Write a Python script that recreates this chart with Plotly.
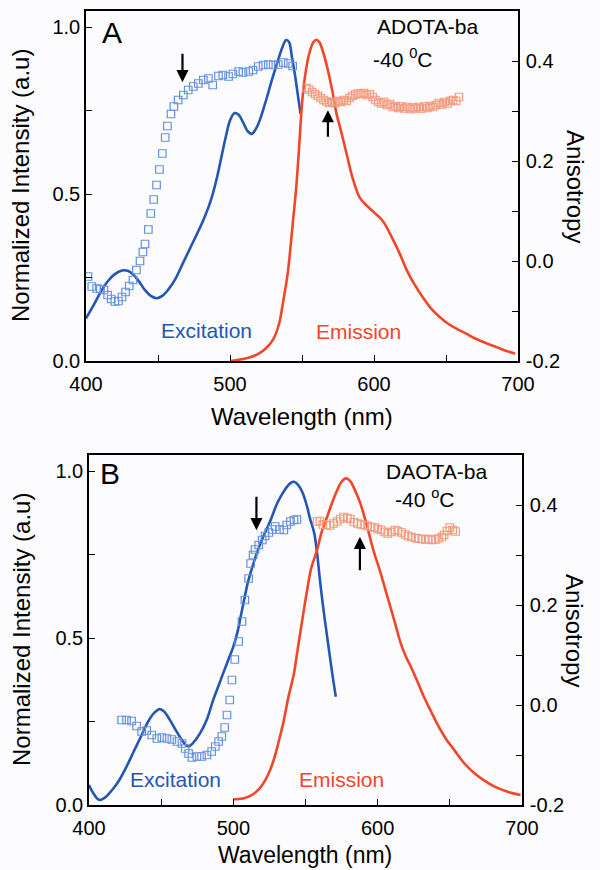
import plotly.graph_objects as go

# ---------------- Panel A : ADOTA-ba ----------------
a_exc_wl = [400, 405, 410, 415, 420, 425, 429, 433, 437, 441, 445, 449, 453, 457, 462, 467, 472, 477, 481, 485,
            488, 491, 494, 497, 500, 503, 506, 509, 512, 515, 518, 521, 525, 529, 533, 536, 539, 541, 543, 545, 547, 549]
a_exc_val = [0.128, 0.165, 0.205, 0.238, 0.26, 0.271, 0.27, 0.258, 0.237, 0.212, 0.195, 0.188, 0.195, 0.213, 0.245,
             0.29, 0.335, 0.38, 0.417, 0.46, 0.50, 0.55, 0.61, 0.67, 0.72, 0.742, 0.737, 0.715, 0.69, 0.68, 0.695,
             0.725, 0.78, 0.84, 0.895, 0.935, 0.961, 0.955, 0.91, 0.86, 0.80, 0.74]

a_emi_wl = [500, 505, 510, 515, 520, 525, 530, 534, 537, 540, 542, 544, 546, 548, 550, 552, 555, 558, 560, 562, 565,
            568, 571, 574, 577, 581, 585, 590, 595, 600, 606, 613, 618, 623, 628, 634, 640, 646, 652, 658, 664, 670,
            678, 686, 692, 698]
a_emi_val = [0.0, 0.003, 0.007, 0.013, 0.022, 0.038, 0.065, 0.11, 0.18, 0.26, 0.34, 0.43, 0.52, 0.64, 0.77, 0.85,
             0.92, 0.955, 0.962, 0.955, 0.92, 0.87, 0.81, 0.74, 0.69, 0.62, 0.55, 0.49, 0.465, 0.445, 0.42, 0.365,
             0.32, 0.27, 0.23, 0.19, 0.155, 0.13, 0.11, 0.095, 0.082, 0.068, 0.053, 0.04, 0.03, 0.022]

a_anx_wl = [401.4, 404, 407.4, 410, 412.5, 415, 417.5, 420, 422.5, 425, 427.5, 430, 432.6, 435, 437.5, 439.5, 441,
            443.3, 445, 447, 449, 451, 453, 455, 456.5, 459, 461, 464, 467.6, 471, 474.5, 478, 481.5, 485, 488, 492,
            495, 499, 502, 506, 509, 513, 516, 519.6, 523, 526.6, 530, 533.5, 537, 540.5, 543.5]
a_anx_val = [-0.031, -0.051, -0.055, -0.056, -0.058, -0.068, -0.076, -0.081, -0.08, -0.072, -0.062, -0.05, -0.038,
             -0.018, 0.0, 0.018, 0.034, 0.063, 0.095, 0.123, 0.152, 0.183, 0.215, 0.247, 0.27, 0.294, 0.309, 0.322,
             0.332, 0.342, 0.349, 0.355, 0.362, 0.365, 0.352, 0.37, 0.372, 0.369, 0.374, 0.379, 0.377, 0.379, 0.382,
             0.389, 0.392, 0.393, 0.392, 0.393, 0.397, 0.395, 0.39]

a_anm_wl = [553, 555, 557, 559, 561, 563, 565, 567, 569, 571, 573, 575, 577, 579, 581, 583, 585, 587, 589, 591, 593,
            595, 597, 599, 601, 603, 605, 607, 609, 611, 613, 615, 617, 619, 621, 623, 625, 627, 629, 631, 633, 635,
            637, 639, 641, 643, 645, 647, 649, 651, 653, 655, 657, 659]
a_anm_val = [0.346, 0.343, 0.338, 0.334, 0.330, 0.326, 0.322, 0.319, 0.316, 0.318, 0.316, 0.320, 0.318, 0.322, 0.320,
             0.326, 0.330, 0.333, 0.335, 0.334, 0.336, 0.332, 0.334, 0.328, 0.322, 0.318, 0.315, 0.318, 0.312, 0.314,
             0.308, 0.310, 0.306, 0.309, 0.305, 0.308, 0.304, 0.307, 0.305, 0.308, 0.305, 0.309, 0.306, 0.310, 0.308,
             0.312, 0.316, 0.313, 0.318, 0.315, 0.320, 0.322, 0.320, 0.328]

# ---------------- Panel B : DAOTA-ba ----------------
b_exc_wl = [400, 403, 406, 408, 411, 414, 417, 421, 426, 431, 436, 441, 445, 449, 452, 456, 460, 464, 467, 469, 472,
            477, 482, 486, 490, 493, 497, 500, 503, 505, 508, 510, 514, 519, 523, 526, 530, 533, 537, 540, 542, 545,
            548, 551, 553, 556, 558, 560, 562, 565, 568, 571]
b_exc_val = [0.06, 0.035, 0.018, 0.015, 0.022, 0.035, 0.05, 0.075, 0.115, 0.16, 0.205, 0.25, 0.275, 0.287, 0.28,
             0.255, 0.225, 0.197, 0.18, 0.175, 0.185, 0.215, 0.26, 0.314, 0.36, 0.395, 0.44, 0.474, 0.52, 0.562,
             0.625, 0.665, 0.724, 0.786, 0.825, 0.855, 0.9, 0.925, 0.952, 0.965, 0.968, 0.958, 0.935, 0.895, 0.86,
             0.815, 0.755, 0.674, 0.6, 0.504, 0.41, 0.324]

b_emi_wl = [500, 504, 508, 512, 516, 520, 524, 528, 532, 535, 538, 542, 544, 548, 551, 554, 558, 561, 565, 568, 572,
            575, 578, 581, 584, 588, 592, 597, 602, 607, 612, 616, 620, 623, 628, 632, 637, 641, 647, 653, 660, 667,
            674, 681, 690, 699]
b_emi_val = [0.017, 0.018, 0.021, 0.028, 0.04, 0.06, 0.09, 0.135, 0.2, 0.254, 0.32, 0.394, 0.45, 0.56, 0.64, 0.71,
             0.763, 0.815, 0.863, 0.9, 0.943, 0.968, 0.978, 0.97, 0.945, 0.903, 0.845, 0.763, 0.695, 0.62, 0.545,
             0.484, 0.44, 0.414, 0.365, 0.324, 0.28, 0.245, 0.2, 0.165, 0.125, 0.095, 0.073, 0.055, 0.04, 0.03]

b_anx_wl = [422.6, 426, 429.5, 433, 436.5, 440, 443.5, 447, 450.5, 454, 457.4, 461, 464.4, 466.7, 469, 471.3, 474.8,
            478, 481.7, 485, 487.5, 489.8, 492, 494, 495.6, 497.5, 499, 501, 503.7, 506, 508, 510.6, 512, 513.7, 515,
            517.6, 520, 522, 524.6, 527, 529, 532, 535, 537, 539.6, 542, 544]
b_anx_val = [-0.03, -0.03, -0.032, -0.042, -0.053, -0.051, -0.06, -0.067, -0.065, -0.067, -0.069, -0.073, -0.077,
             -0.087, -0.097, -0.105, -0.103, -0.103, -0.1, -0.093, -0.083, -0.073, -0.063, -0.045, -0.02, 0.01, 0.05,
             0.091, 0.127, 0.167, 0.21, 0.253, 0.283, 0.3, 0.311, 0.32, 0.33, 0.338, 0.345, 0.351, 0.357, 0.351,
             0.35, 0.36, 0.367, 0.37, 0.371]

b_anm_wl = [558, 560, 562, 564.5, 567, 569.5, 572, 574, 576.4, 579, 581, 583.5, 586, 588.5, 591, 593, 595.5, 598, 600,
            602.5, 605, 607, 609.5, 612, 614, 616.5, 619, 621, 623.5, 626, 628, 630.5, 633, 635, 637.5, 640, 642,
            644.5, 646, 648, 650, 652, 654]
b_anm_val = [0.367, 0.368, 0.361, 0.36, 0.359, 0.363, 0.367, 0.372, 0.376, 0.374, 0.372, 0.366, 0.363, 0.361, 0.36,
             0.358, 0.356, 0.355, 0.352, 0.35, 0.346, 0.343, 0.346, 0.35, 0.348, 0.345, 0.341, 0.338, 0.336, 0.334,
             0.333, 0.332, 0.331, 0.332, 0.33, 0.331, 0.333, 0.336, 0.34, 0.348, 0.355, 0.35, 0.347]

# ---------------- Ticks ----------------
x_tickvals = [400, 500, 600, 700]
x_ticktext = ["400", "500", "600", "700"]
x_minor = [450, 550, 650]
yl_tickvals = [0.0, 0.5, 1.0]
yl_ticktext = ["0.0", "0.5", "1.0"]
yl_minor = [0.25, 0.75]
yr_tickvals = [-0.2, 0.0, 0.2, 0.4]
yr_ticktext = ["-0.2", "0.0", "0.2", "0.4"]
yr_minor = [-0.1, 0.1, 0.3]

BLUE = "#2456b4"
RED = "#f2462a"
BLUE_SQ = "#6390e0"
RED_SQ = "#f5987c"
FONT = "Liberation Sans, Arial, sans-serif"

W, H = 600, 870

fig = go.Figure()

def add_panel(exc_wl, exc_val, emi_wl, emi_val, anx_wl, anx_val, anm_wl, anm_val, xa, yl, yr):
    fig.add_trace(go.Scatter(x=exc_wl, y=exc_val, mode="lines", line=dict(color=BLUE, width=2.6, shape="spline"),
                             xaxis=xa, yaxis=yl, showlegend=False))
    fig.add_trace(go.Scatter(x=emi_wl, y=emi_val, mode="lines", line=dict(color=RED, width=2.6, shape="spline"),
                             xaxis=xa, yaxis=yl, showlegend=False))
    fig.add_trace(go.Scatter(x=anx_wl, y=anx_val, mode="markers",
                             marker=dict(symbol="square-open", size=7.5, color=BLUE_SQ, line=dict(width=1.2, color=BLUE_SQ)),
                             xaxis=xa, yaxis=yr, showlegend=False))
    fig.add_trace(go.Scatter(x=anm_wl, y=anm_val, mode="markers",
                             marker=dict(symbol="square-open", size=7.5, color=RED_SQ, line=dict(width=1.2, color=RED_SQ)),
                             xaxis=xa, yaxis=yr, showlegend=False))

add_panel(a_exc_wl, a_exc_val, a_emi_wl, a_emi_val, a_anx_wl, a_anx_val, a_anm_wl, a_anm_val, "x", "y", "y2")
add_panel(b_exc_wl, b_exc_val, b_emi_wl, b_emi_val, b_anx_wl, b_anx_val, b_anm_wl, b_anm_val, "x2", "y3", "y4")

tickfont = dict(family=FONT, size=20, color="black")
common = dict(showgrid=False, zeroline=False, showline=True, linecolor="black", linewidth=1.5, automargin=False,
              ticks="inside", ticklen=6, tickwidth=1.3, tickcolor="black", tickfont=tickfont)

def xax(domain, anchor):
    return dict(domain=domain, anchor=anchor, range=[400, 700], mirror=True, tickmode="array",
                tickvals=x_tickvals, ticktext=x_ticktext, ticklabelstandoff=4,
                minor=dict(tickvals=x_minor, ticks="inside", ticklen=6, tickwidth=1.3, tickcolor="black"), **common)

def ylax(domain, anchor):
    return dict(domain=domain, anchor=anchor, range=[0, 1.048], tickmode="array",
                tickvals=yl_tickvals, ticktext=yl_ticktext, ticklabelstandoff=0,
                minor=dict(tickvals=yl_minor, ticks="inside", ticklen=6, tickwidth=1.3, tickcolor="black"), **common)

def yrax(overlay, anchor):
    return dict(overlaying=overlay, anchor=anchor, side="right", range=[-0.2, 0.5], tickmode="array",
                tickvals=yr_tickvals, ticktext=yr_ticktext, ticklabelstandoff=2,
                minor=dict(tickvals=yr_minor, ticks="inside", ticklen=6, tickwidth=1.3, tickcolor="black"), **common)

dA_y = [1 - 361 / H, 1 - 11 / H]
dB_y = [1 - 805 / H, 1 - 455 / H]

fig.update_layout(
    width=W, height=H, margin=dict(l=0, r=0, t=0, b=0),
    paper_bgcolor="#fcfcfe", plot_bgcolor="#fcfcfe",
    font=dict(family=FONT, color="black"),
    xaxis=xax([86 / W, 518 / W], "y"),
    yaxis=ylax(dA_y, "x"),
    yaxis2=yrax("y", "x"),
    xaxis2=xax([89 / W, 522 / W], "y3"),
    yaxis3=ylax(dB_y, "x2"),
    yaxis4=yrax("y3", "x2"),
)

def ptext(text, px, py, size, color="black", angle=0):
    fig.add_annotation(text=text, x=px / W, y=1 - py / H, xref="paper", yref="paper", showarrow=False,
                       textangle=angle, font=dict(family=FONT, size=size, color=color),
                       xanchor="center", yanchor="middle")

# axis titles
for cy in [186, 630]:
    ptext("Normalized Intensity (a.u)", 21, cy, 24, angle=-90)
    ptext("Anisotropy", 575, cy, 24, angle=90)
ptext("Wavelength (nm)", 302, 416, 24)
ptext("Wavelength (nm)", 305, 855, 23)

# panel labels & texts
ptext("A", 112, 32, 30)
ptext("ADOTA-ba", 427, 27, 21)
ptext("-40 <sup>0</sup>C", 403, 58, 21)
ptext("Excitation", 206, 330, 21, BLUE)
ptext("Emission", 358, 331, 21, RED)

ptext("B", 110, 473, 30)
ptext("DAOTA-ba", 436, 471, 21)
ptext("-40 <sup>o</sup>C", 425, 498, 21)
ptext("Excitation", 175, 779, 21, BLUE)
ptext("Emission", 341, 779, 21, RED)

# arrows
def arrow(x, y, xr, yr, ay):
    fig.add_annotation(x=x, y=y, xref=xr, yref=yr, ax=0, ay=ay, showarrow=True, arrowhead=2,
                       arrowsize=1.1, arrowwidth=2.2, arrowcolor="black", text="")

arrow(467, 0.835, "x", "y", -30)
arrow(568, 0.751, "x", "y", 28)
arrow(516, 0.823, "x2", "y3", -35)
arrow(587.7, 0.803, "x2", "y3", 35)

fig.write_html("out.html", config={"displayModeBar": False},
               post_script="document.body.style.margin='0';document.body.style.overflow='hidden';")
